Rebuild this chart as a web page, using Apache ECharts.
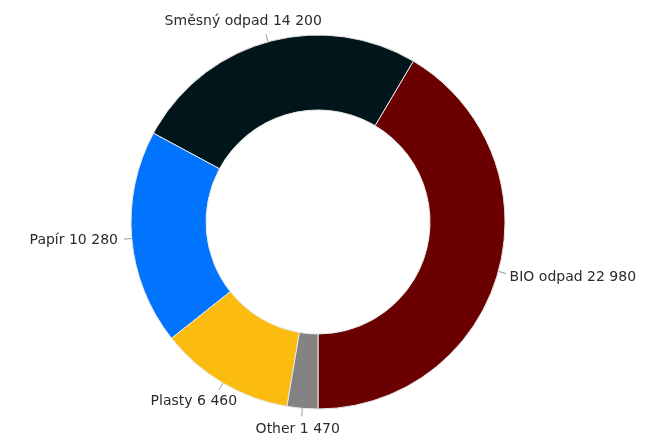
<!DOCTYPE html>
<html>
<head>
<meta charset="utf-8">
<script src="https://cdn.jsdelivr.net/npm/echarts@6/dist/echarts.min.js"></script>
<style>
    html, body { margin: 0; padding: 0; background: #ffffff; }
    #myChart { width: 648px; height: 441px; }
</style>
</head>
<body>
<div id="myChart"></div>
<script>
// data, sorted as drawn (counter-clockwise from the bottom)
let categories = ['BIO odpad', 'Směsný odpad', 'Papír', 'Plasty', 'Other'];
let values = [22980, 14200, 10280, 6460, 1470];
let sliceColors = ['#6b0000', '#00161b', '#0073ff', '#fbbb0f', '#838383'];

// "22980" -> "22 980"
function fmt(v){
    return String(v).replace(/\B(?=(\d{3})+(?!\d))/g, ' ');
}

let myChart = echarts.init(document.getElementById('myChart'));

let pieData = categories.map((name, i) => {
    return { name: name, value: values[i], itemStyle: { color: sliceColors[i] } };
});

myChart.setOption({
    animation: false,
    series: [{
        type: 'pie',
        center: [318, 222],
        radius: [112, 187],
        startAngle: 270,
        clockwise: false,
        avoidLabelOverlap: false,
        itemStyle: {
            borderColor: '#e6e6e6',
            borderWidth: 1
        },
        label: {
            show: true,
            position: 'outside',
            color: '#2b2b2b',
            fontFamily: '"DejaVu Sans", sans-serif',
            fontSize: 14,
            formatter: p => p.name + ' ' + fmt(p.value)
        },
        labelLine: {
            show: true,
            length: 8,
            length2: 0,
            smooth: false,
            lineStyle: { color: '#9a9a9a', width: 1 }
        },
        // put the label box round the end of its line, the anchor sliding along the box with the angle
        labelLayout: function (params) {
            let pts = params.labelLinePoints;
            if (!pts) return {};
            let p0 = pts[0], p1 = pts[1];
            let dx = p1[0] - p0[0], dy = p1[1] - p0[1];
            let len = Math.sqrt(dx * dx + dy * dy) || 1;
            dx /= len; dy /= len;
            let gap = 6;
            let ax = p1[0] + dx * gap, ay = p1[1] + dy * gap;
            let w = params.labelRect.width, h = params.labelRect.height;
            let fx = 0.5 - 0.5 * dx, fy = 0.5 - 0.5 * dy;
            return {
                x: ax - fx * w,
                y: ay - fy * h,
                align: 'left',
                verticalAlign: 'top',
                labelLinePoints: pts
            };
        },
        data: pieData
    }]
});
</script>
</body>
</html>
